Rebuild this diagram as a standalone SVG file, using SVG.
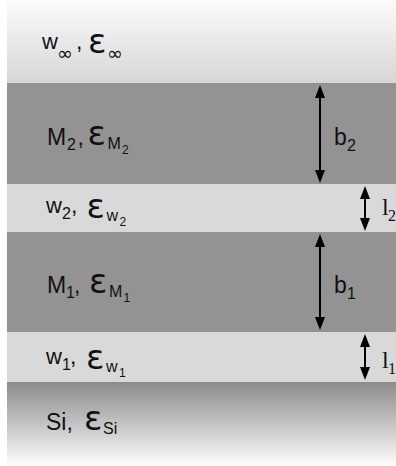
<svg xmlns="http://www.w3.org/2000/svg" width="396" height="466" viewBox="0 0 396 466">
  <style>
    .t { font-family: "Liberation Sans", Arial, Helvetica, sans-serif; fill: #111; }
    .m { font-size: 23px; }
    .w { font-size: 22px; }
    .s { font-size: 16px; }
    .ss { font-size: 12px; }
    .e { font-family: "DejaVu Sans", sans-serif; font-size: 34px; }
    .inf { font-family: "DejaVu Sans", sans-serif; font-size: 19px; }
    .r { font-family: "Liberation Serif", "Times New Roman", serif; fill: #111; }
    .light { fill: #d9d9d9; }
    .dark { fill: #939393; }
    .dim { stroke: #000; stroke-width: 2; fill: none; marker-start: url(#head); marker-end: url(#head); }
  </style>
  <defs>
    <linearGradient id="topFade" x1="0" y1="0" x2="0" y2="1">
      <stop offset="0" stop-color="#fbfbfb"/>
      <stop offset="1" stop-color="#d6d6d6"/>
    </linearGradient>
    <linearGradient id="siFade" x1="0" y1="0" x2="0" y2="1">
      <stop offset="0" stop-color="#8b8b8b"/>
      <stop offset="1" stop-color="#fdfdfd"/>
    </linearGradient>
    <marker id="head" markerUnits="userSpaceOnUse" markerWidth="14" markerHeight="10" refX="3" refY="5" orient="auto-start-reverse" viewBox="0 0 14 10">
      <path d="M0,0 L13,5 L0,10 Z" fill="#000"/>
    </marker>
  </defs>

  <rect width="396" height="466" fill="#fff"/>

  <!-- layer stack -->
  <g id="ambient">
    <rect x="7" y="0" width="389" height="83" fill="url(#topFade)"/>
    <text class="t" y="48.5"><tspan class="w" x="42">w</tspan><tspan class="inf" x="57" y="60">∞</tspan><tspan class="m" x="76" y="48.5">,</tspan><tspan class="e" x="88" y="53">ε</tspan><tspan class="inf" x="107" y="60">∞</tspan></text>
  </g>

  <g id="metal2">
    <rect class="dark" x="7" y="83" width="389" height="101"/>
    <text class="t" y="144.5"><tspan class="m" x="47">M</tspan><tspan class="s" x="67" y="150">2</tspan><tspan class="m" x="77.5" y="144.5">,</tspan><tspan class="e" x="87.5" y="145">ε</tspan><tspan class="s" x="107.5" y="148.5">M</tspan><tspan class="ss" x="122" y="153.5">2</tspan></text>
  </g>

  <g id="water2">
    <rect class="light" x="7" y="184" width="389" height="48"/>
    <text class="t" y="213"><tspan class="w" x="46">w</tspan><tspan class="s" x="62" y="219">2</tspan><tspan class="m" x="71" y="213">,</tspan><tspan class="e" x="86.5" y="218">ε</tspan><tspan class="s" x="106.5" y="221">w</tspan><tspan class="ss" x="119.5" y="226">2</tspan></text>
  </g>

  <g id="metal1">
    <rect class="dark" x="7" y="232" width="389" height="100"/>
    <text class="t" y="292.5"><tspan class="m" x="47">M</tspan><tspan class="s" x="66" y="298">1</tspan><tspan class="m" x="74" y="292.5">,</tspan><tspan class="e" x="89" y="293">ε</tspan><tspan class="s" x="109" y="296.5">M</tspan><tspan class="ss" x="123.5" y="301.5">1</tspan></text>
  </g>

  <g id="water1">
    <rect class="light" x="7" y="332" width="389" height="50"/>
    <text class="t" y="364"><tspan class="w" x="46">w</tspan><tspan class="s" x="62" y="370">1</tspan><tspan class="m" x="70" y="364">,</tspan><tspan class="e" x="86" y="369">ε</tspan><tspan class="s" x="106" y="372">w</tspan><tspan class="ss" x="119" y="377">1</tspan></text>
  </g>

  <g id="substrate">
    <rect x="7" y="382" width="389" height="84" fill="url(#siFade)"/>
    <text class="t" y="429.5"><tspan class="m" x="46">Si, </tspan><tspan class="e" x="84" y="430">ε</tspan><tspan class="s" x="103" y="433.5">Si</tspan></text>
  </g>

  <!-- thickness dimensions -->
  <g id="connectors">
    <line class="dim" x1="320" y1="95" x2="320" y2="173"/>
    <line class="dim" x1="320" y1="244" x2="320" y2="320"/>
    <line class="dim" x1="365" y1="196" x2="365" y2="221"/>
    <line class="dim" x1="365" y1="344" x2="365" y2="370"/>
  </g>

  <g id="labels">
    <text class="t" y="145"><tspan class="m" x="334">b</tspan><tspan class="s" x="347" y="151">2</tspan></text>
    <text class="t" y="293"><tspan class="m" x="334">b</tspan><tspan class="s" x="347" y="299">1</tspan></text>
    <text class="r" y="215"><tspan style="font-size:24px" x="382">l</tspan><tspan style="font-size:16px" x="388" y="221">2</tspan></text>
    <text class="r" y="368"><tspan style="font-size:24px" x="382">l</tspan><tspan style="font-size:16px" x="388" y="374">1</tspan></text>
  </g>
</svg>
